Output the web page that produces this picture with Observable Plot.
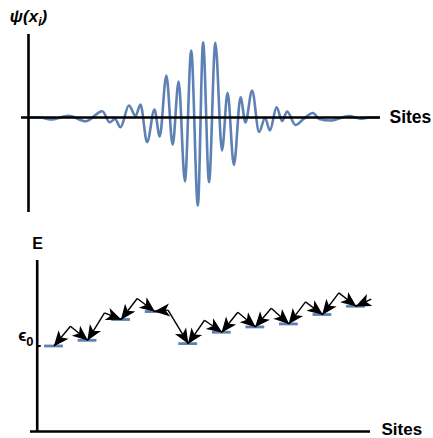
<!DOCTYPE html>
<html>
<head>
<meta charset="utf-8">
<script src="https://cdn.jsdelivr.net/npm/d3@7"></script>
<script src="https://cdn.jsdelivr.net/npm/@observablehq/plot@0.6"></script>
<style>
  body { margin: 0; background: #fff; }
  #chart svg { display: block; }
</style>
</head>
<body>
<div id="chart"></div>
<script>
const waveSites = [0, 3.4, 6.3, 11.5, 16.3, 21.1, 23.2, 24.7, 26.3, 28.7, 30.6, 32.0, 33.9, 36.0, 37.5,
  39.4, 41.2, 42.9, 44.7, 46.5, 48.4, 49.9, 51.6, 53.4, 55.3, 56.9, 58.7, 60.6, 62.0, 63.9, 65.9,
  67.6, 69.0, 70.9, 72.5, 73.9, 76.3, 78.6, 81.3, 83.1, 86.3, 91.7, 94.9, 97.5, 100];
const waveAmps = [0, 0, -0.025, 0.021, -0.046, 0.079, -0.059, -0.019, -0.121, 0.15, 0.02, 0.1625, -0.309, 0.10, -0.2375,
  0.525, -0.341, 0.45, -0.796, 0.8375, -1.10, 0.941, -0.809, 0.934, -0.4125, 0.31, -0.594, 0.254, -0.0625, 0.3375, -0.181,
  -0.006, -0.1625, 0.129, -0.044, 0.075, -0.094, -0.019, 0.056, -0.019, -0.0375, 0.019, -0.016, 0, 0];

// ---- Bottom panel: site energies and hopping peaks ----
const levelSites = [1, 2, 3, 4, 5, 6, 7, 8, 9, 10];
const levelEnergies = [1.0, 1.067, 1.31, 1.403, 1.028, 1.161, 1.223, 1.258, 1.368, 1.465];
const hopPeakSites = [1.49, 2.505, 3.48, 4.4, 5.486, 6.478, 7.474, 8.496, 9.489, 10.455];
const hopPeakEnergies = [1.231, 1.387, 1.556, 1.42, 1.301, 1.395, 1.442, 1.516, 1.621, 1.547];

// ---- Labels (base text, subscript, trailing text) ----
const siteLabel = "Sites";
const waveLabelParts = ["ψ(x", "i", ")"];
const energyLabel = "E";
const eps0LabelParts = ["ϵ", "0", ""];

const blue = "#5E81B5";
const font = "'Liberation Sans', Arial, Helvetica, sans-serif";

const wave = waveSites.map((s, i) => ({site: s, amp: waveAmps[i]}));
const levels = levelSites.map((s, i) => ({site: s, e: levelEnergies[i]}));
const hops = [];
hopPeakSites.forEach((s, k) => {
  const pe = hopPeakEnergies[k];
  if (k < levels.length) hops.push({x1: s, y1: pe, x2: levels[k].site, y2: levels[k].e});
  if (k + 1 < levels.length) hops.push({x1: s, y1: pe, x2: levels[k + 1].site, y2: levels[k + 1].e});
});

function bigHead(color, context) {
  const ns = "http://www.w3.org/2000/svg";
  const doc = context && context.document ? context.document : document;
  const m = doc.createElementNS(ns, "marker");
  m.setAttribute("viewBox", "-17 -9 18 18");
  m.setAttribute("markerWidth", 18);
  m.setAttribute("markerHeight", 18);
  m.setAttribute("refX", 0);
  m.setAttribute("refY", 0);
  m.setAttribute("markerUnits", "userSpaceOnUse");
  m.setAttribute("orient", "auto");
  const p = doc.createElementNS(ns, "path");
  p.setAttribute("d", "M0.5,0L-15,-6.5L-11,0L-15,6.5Z");
  p.setAttribute("fill", color);
  p.setAttribute("stroke", "none");
  m.appendChild(p);
  return m;
}

// Rebuild a label text as base + subscript tspans (stays real text)
function subscriptify(svg, parts, subShift, subSize) {
  const full = parts.join("");
  d3.select(svg).selectAll("text").filter(function () { return this.textContent === full; })
    .each(function () {
      const t = d3.select(this);
      t.text(null);
      t.append("tspan").text(parts[0]);
      t.append("tspan").attr("dy", subShift).attr("font-size", subSize).text(parts[1]);
      if (parts[2]) t.append("tspan").attr("dy", -subShift).text(parts[2]);
    });
}

const topPanel = Plot.plot({
  width: 433,
  height: 220,
  marginLeft: 21,
  marginRight: 53,
  marginTop: 34,
  marginBottom: 8,
  style: {fontFamily: font, background: "white"},
  x: {domain: [-2, 100.6], axis: null},
  y: {domain: [-1.1875, 1.0375], axis: null},
  marks: [
    Plot.line(wave, {x: "site", y: "amp", curve: "monotone-x", stroke: blue, strokeWidth: 2.6}),
    Plot.ruleY([0], {stroke: "black", strokeWidth: 2.6}),
    Plot.ruleX([0], {stroke: "black", strokeWidth: 2.6}),
    Plot.text([waveLabelParts.join("")], {frameAnchor: "top-left", dx: 7, dy: -13, textAnchor: "middle", lineAnchor: "bottom",
      fontSize: 17, fontWeight: "bold", fontStyle: "italic", fill: "black"}),
    Plot.text([siteLabel], {y: [0], frameAnchor: "right", dx: 9, textAnchor: "start", lineAnchor: "middle",
      fontSize: 17.5, fontWeight: "bold", fill: "black"})
  ]
});
subscriptify(topPanel, waveLabelParts, 4, 12);

const bottomPanel = Plot.plot({
  width: 433,
  height: 218,
  marginLeft: 30,
  marginRight: 63,
  marginTop: 40,
  marginBottom: 7,
  style: {fontFamily: font, background: "white"},
  x: {domain: [0.3, 10.432], axis: null},
  y: {domain: [0, 2.0], axis: null},
  marks: [
    Plot.ruleX([0.5], {stroke: "black", strokeWidth: 2.6}),
    Plot.ruleY([0], {stroke: "black", strokeWidth: 2.6}),
    Plot.ruleY([levelEnergies[0]], {x1: 0.5, x2: 0.62, stroke: "black", strokeWidth: 2}),
    Plot.ruleY(levels, {y: "e", x1: d => d.site - 0.28, x2: d => d.site + 0.28, stroke: blue, strokeWidth: 2.8}),
    Plot.link(hops, {x1: "x1", y1: "y1", x2: "x2", y2: "y2", stroke: "black", strokeWidth: 1.4, markerEnd: bigHead}),
    Plot.text([energyLabel], {frameAnchor: "top-left", dx: 7, dy: -12, textAnchor: "middle", lineAnchor: "bottom",
      fontSize: 16, fontWeight: "bold", fill: "black"}),
    Plot.text([eps0LabelParts.join("")], {y: [levelEnergies[0]], frameAnchor: "left", dx: 3, dy: -5, textAnchor: "end", lineAnchor: "bottom",
      fontSize: 17, fontWeight: "bold", fill: "black"}),
    Plot.text([siteLabel], {y: [0], frameAnchor: "right", dx: 11, dy: -2, textAnchor: "start", lineAnchor: "middle",
      fontSize: 17, fontWeight: "bold", fill: "black"})
  ]
});
subscriptify(bottomPanel, eps0LabelParts, 5, 13);

document.getElementById("chart").append(topPanel, bottomPanel);
</script>
</body>
</html>
